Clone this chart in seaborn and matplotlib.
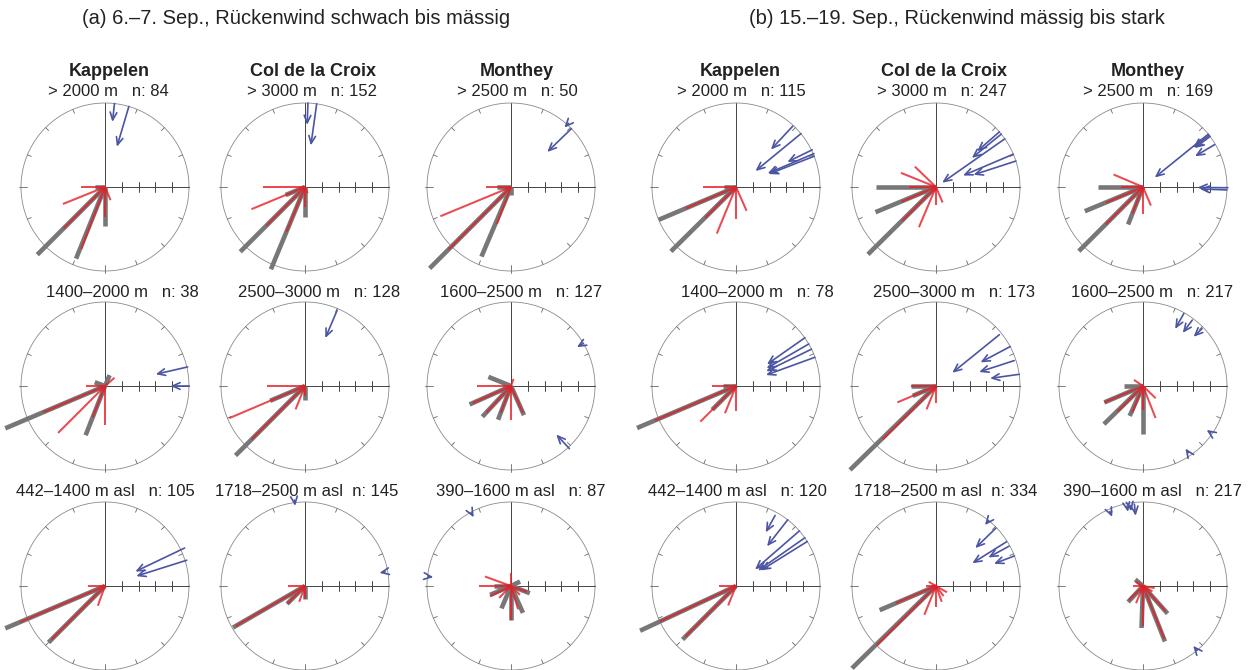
import numpy as np
import matplotlib.pyplot as plt
import seaborn as sns

sns.set_theme(style="white")
plt.rcParams["font.family"] = ["Liberation Sans", "DejaVu Sans"]

# ---- labels ----
headers = ["(a) 6.–7. Sep., Rückenwind schwach bis mässig",
           "(b) 15.–19. Sep., Rückenwind mässig bis stark"]
stations = ["Kappelen", "Col de la Croix", "Monthey"]
layers = [["> 2000 m", "> 3000 m", "> 2500 m"],
          ["1400–2000 m", "2500–3000 m", "1600–2500 m"],
          ["442–1400 m asl", "1718–2500 m asl", "390–1600 m asl"]]
n_a = [[84, 152, 50], [38, 128, 127], [105, 145, 87]]
n_b = [[115, 247, 169], [78, 173, 217], [120, 334, 217]]

# ---- per panel data ----
# grey / red: (direction deg, length relative to circle radius)
# wind: (direction deg, start radius, end radius)
grey_a11 = [(225, 1.14), (202, 0.92), (180, 0.46), (270, 0.12)]
red_a11 = [(270, 0.28), (248, 0.54), (225, 0.70), (201, 0.79), (180, 0.36), (157, 0.17)]
wind_a11 = [(6.5, 1.0, 0.78), (16.5, 1.0, 0.5)]

grey_a12 = [(225, 1.09), (202.5, 1.06), (180, 0.36), (247.5, 0.25)]
red_a12 = [(270, 0.5), (247.5, 0.69), (225, 0.65), (202.5, 0.58), (180, 0.24), (157, 0.08)]
wind_a12 = [(2, 1.0, 0.74), (8, 1.0, 0.5)]

grey_a13 = [(225, 1.37), (203, 0.9), (270, 0.17), (180, 0.1)]
red_a13 = [(270, 0.3), (247.5, 0.91), (225, 1.05), (201, 0.47)]
wind_a13 = [(46, 1.0, 0.6), (42, 1.02, 0.95)]

grey_a21 = [(247, 1.29), (201.5, 0.63), (23, 0.14), (290, 0.13)]
red_a21 = [(247, 0.8), (225, 0.79), (180, 0.47), (49, 0.15), (270, 0.23), (201.5, 0.4)]
wind_a21 = [(77, 1.01, 0.62), (90, 1.0, 0.78)]

grey_a22 = [(225, 1.17), (247, 0.45), (180, 0.17)]
red_a22 = [(270, 0.45), (247, 0.98), (225, 0.9), (202, 0.3), (180, 0.12)]
wind_a22 = [(23, 0.98, 0.62)]

grey_a23 = [(246, 0.54), (223, 0.5), (201, 0.43), (292, 0.29), (156, 0.38), (270, 0.1)]
red_a23 = [(270, 0.4), (246, 0.5), (223, 0.43), (201, 0.34), (180, 0.41), (156, 0.35), (20, 0.09)]
wind_a23 = [(59.5, 1.0, 0.91), (137, 1.02, 0.79)]

grey_a31 = [(247, 1.29), (225, 0.95)]
red_a31 = [(247, 1.1), (225, 0.9), (270, 0.2), (200, 0.25)]
wind_a31 = [(64.5, 1.05, 0.4), (72.5, 1.02, 0.39)]

grey_a32 = [(240, 0.99), (225, 0.3), (180, 0.15)]
red_a32 = [(240, 0.95), (270, 0.2), (225, 0.3), (200, 0.2), (180, 0.15)]
wind_a32 = [(353, 1.03, 0.96), (80, 0.97, 0.9)]

grey_a33 = [(156, 0.35), (111, 0.24), (203, 0.29), (180, 0.41), (247, 0.27), (64, 0.12), (270, 0.2)]
red_a33 = [(270, 0.38), (290, 0.33), (244, 0.28), (180, 0.41), (0, 0.15), (163, 0.29),
           (110, 0.2), (135, 0.15), (225, 0.2)]
wind_a33 = [(331.5, 0.99, 0.93), (276.5, 0.99, 0.93)]

grey_b11 = [(247, 1.0), (225.3, 1.09), (270, 0.14)]
red_b11 = [(270, 0.39), (247, 0.65), (225, 0.52), (202.4, 0.6), (180, 0.38), (156, 0.31)]
wind_b11 = [(43, 0.99, 0.61), (50.6, 1.0, 0.3), (64, 1.01, 0.68), (66.8, 1.01, 0.41), (68.5, 1.0, 0.42)]

grey_b12 = [(270, 0.71), (247.4, 0.78), (225.3, 1.14)]
red_b12 = [(270, 0.32), (247, 0.45), (225, 0.57), (292, 0.45), (314, 0.35), (203, 0.52),
           (180, 0.22), (157, 0.2)]
wind_b12 = [(49, 1.0, 0.65), (51, 1.0, 0.55), (55, 1.0, 0.09), (67, 1.0, 0.35), (72, 1.0, 0.47)]

grey_b13 = [(270, 0.54), (247.4, 0.75), (225, 1.08), (201.7, 0.48)]
red_b13 = [(270, 0.26), (247, 0.48), (225, 0.63), (293, 0.38), (180, 0.32), (157, 0.24), (202, 0.34)]
wind_b13 = [(52, 1.0, 0.76), (53, 1.0, 0.77), (59.4, 0.99, 0.72), (51, 1.0, 0.18),
            (90.5, 1.01, 0.65), (92, 1.0, 0.68)]

grey_b21 = [(247, 1.28), (225, 0.4), (270, 0.15)]
red_b21 = [(247, 1.05), (225, 0.6), (202, 0.35), (270, 0.28), (180, 0.3)]
wind_b21 = [(55, 1.0, 0.45), (60, 1.0, 0.42), (64, 1.0, 0.4), (70, 1.0, 0.38)]

grey_b22 = [(225.7, 1.43), (270, 0.3), (247, 0.3)]
red_b22 = [(225, 0.9), (247, 0.5), (270, 0.3), (202, 0.3), (180, 0.2)]
wind_b22 = [(51, 0.97, 0.25), (62, 1.0, 0.6), (72, 0.98, 0.54), (82, 1.0, 0.65)]

grey_b23 = [(225.7, 0.65), (180, 0.57), (247, 0.5), (204, 0.39), (270, 0.23)]
red_b23 = [(247, 0.5), (225, 0.43), (158.6, 0.41), (304, 0.13), (134, 0.21), (180, 0.29), (202, 0.34)]
wind_b23 = [(29.4, 0.99, 0.78), (36.8, 0.98, 0.79), (45.8, 0.98, 0.84), (124.6, 0.98, 0.92),
            (145.8, 0.96, 0.9)]

grey_b31 = [(245, 1.26), (225, 0.9)]
red_b31 = [(245, 1.0), (225, 0.85), (270, 0.2), (202, 0.25)]
wind_b31 = [(29, 0.96, 0.73), (38, 1.0, 0.6), (49, 1.0, 0.3), (55, 1.0, 0.32), (58, 1.0, 0.35)]

grey_b32 = [(246.8, 0.73), (225.6, 1.4)]
red_b32 = [(247, 0.52), (225, 1.0), (202, 0.37), (270, 0.12), (143, 0.15), (160, 0.2),
           (120, 0.15), (300, 0.1), (180, 0.25)]
wind_b32 = [(38.8, 1.0, 0.93), (46, 0.99, 0.65), (57.9, 0.99, 0.51), (61.4, 0.99, 0.71), (69, 1.0, 0.74)]

grey_b33 = [(158.4, 0.71), (138.3, 0.44), (182, 0.5), (223, 0.26), (310, 0.12)]
red_b33 = [(158, 0.68), (138, 0.4), (180, 0.48), (225, 0.24), (270, 0.12), (300, 0.1),
           (100, 0.14), (202, 0.22), (120, 0.13)]
wind_b33 = [(336, 0.97, 0.9), (348.6, 0.97, 0.9), (351, 0.97, 0.9), (354, 0.98, 0.84), (140, 1.0, 0.93)]

panels_a = [[(grey_a11, red_a11, wind_a11), (grey_a12, red_a12, wind_a12), (grey_a13, red_a13, wind_a13)],
            [(grey_a21, red_a21, wind_a21), (grey_a22, red_a22, wind_a22), (grey_a23, red_a23, wind_a23)],
            [(grey_a31, red_a31, wind_a31), (grey_a32, red_a32, wind_a32), (grey_a33, red_a33, wind_a33)]]
panels_b = [[(grey_b11, red_b11, wind_b11), (grey_b12, red_b12, wind_b12), (grey_b13, red_b13, wind_b13)],
            [(grey_b21, red_b21, wind_b21), (grey_b22, red_b22, wind_b22), (grey_b23, red_b23, wind_b23)],
            [(grey_b31, red_b31, wind_b31), (grey_b32, red_b32, wind_b32), (grey_b33, red_b33, wind_b33)]]

GREY = "#777777"
RED = "#e41e26"
BLUE = "#4b55a3"

W, H = 1251, 670
R = 84
col_x = [[105, 305, 511], [736, 936, 1143]]
row_y = [187, 386, 586]
sub_x = [[[108, 312, 517], [122, 319, 521], [105, 307, 521]],
         [[741, 942, 1148], [757, 954, 1152], [737, 946, 1152]]]
title_x = [[109, 313, 517], [740, 944, 1148]]
sub_y = [92, 292, 492]


def xy(deg, r):
    t = np.deg2rad(deg)
    return r * np.sin(t), r * np.cos(t)


def draw_panel(ax, grey, red, wind):
    th = np.linspace(0, 2 * np.pi, 400)
    ax.plot(np.cos(th), np.sin(th), color="#8a8a8a", lw=0.6)
    # cross hair and scale ticks
    ax.plot([0, 0], [0, 1], color="#444444", lw=0.7)
    ax.plot([0, 1], [0, 0], color="#444444", lw=0.7)
    for r in [0.2, 0.4, 0.6, 0.8]:
        ax.plot([r, r], [-0.06, 0.06], color="#444444", lw=0.7)
    for k in range(16):
        d = k * 22.5
        if d in (0, 90):
            continue
        r0 = 0.93 if d in (180, 270) else 0.95
        r1 = 1.02 if d in (180, 270) else 1.0
        x0, y0 = xy(d, r0)
        x1, y1 = xy(d, r1)
        ax.plot([x0, x1], [y0, y1], color="#666666", lw=0.6)
    for d, r in grey:
        x, y = xy(d, r)
        ax.plot([0, x], [0, y], color=GREY, lw=3.3, solid_capstyle="butt", clip_on=False)
    for d, r in red:
        x, y = xy(d, r)
        ax.plot([0, x], [0, y], color=RED, lw=1.45, alpha=0.8, solid_capstyle="butt", clip_on=False)
    for d, r0, r1 in wind:
        ax.annotate("", xy=xy(d, r1), xytext=xy(d, r0), annotation_clip=False,
                    arrowprops=dict(arrowstyle="->,head_length=0.45,head_width=0.2",
                                    color=BLUE, lw=1.2, shrinkA=0, shrinkB=0))


fig = plt.figure(figsize=(W / 100, H / 100), dpi=100)
S = 1.6
for g, (panels, nvals) in enumerate([(panels_a, n_a), (panels_b, n_b)]):
    for i in range(3):
        for j in range(3):
            cx, cy = col_x[g][j], row_y[i]
            ax = fig.add_axes([(cx - S * R) / W, (H - cy - S * R) / H, 2 * S * R / W, 2 * S * R / H])
            ax.set_xlim(-S, S)
            ax.set_ylim(-S, S)
            ax.axis("off")
            ax.patch.set_visible(False)
            draw_panel(ax, *panels[i][j])
            gap = "   " if len(layers[i][j]) < 15 else "  "
            fig.text(sub_x[g][i][j] / W, 1 - sub_y[i] / H, f"{layers[i][j]}{gap}n: {nvals[i][j]}",
                     ha="center", va="center", fontsize=12, color="#222222")
        fig.text(title_x[g][0] / W, 1 - 71 / H, "", fontsize=1)
    for j in range(3):
        fig.text(title_x[g][j] / W, 1 - 71 / H, stations[j], ha="center", va="center",
                 fontsize=13, fontweight="bold", color="#222222")

fig.text(296 / W, 1 - 18 / H, headers[0], ha="center", va="center", fontsize=14.5, color="#222222")
fig.text(957 / W, 1 - 18 / H, headers[1], ha="center", va="center", fontsize=14.5, color="#222222")

fig.savefig("out.png", dpi=100)
